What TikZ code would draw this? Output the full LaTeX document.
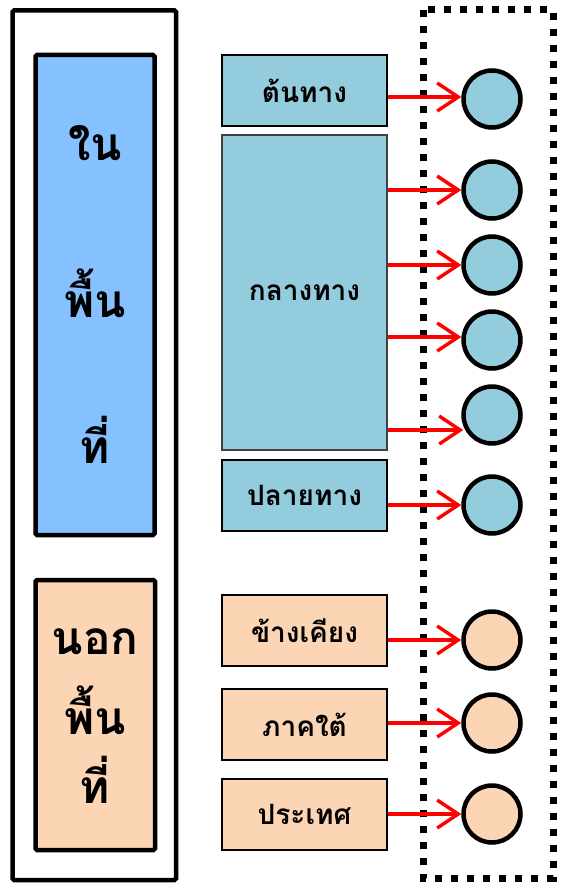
\documentclass[tikz,border=0pt]{standalone}
\usepackage{fontspec}
\newfontfamily\thaifont[Script=Thai]{Loma}
\usetikzlibrary{arrows.meta}
\definecolor{inblue}{RGB}{133,193,255}
\definecolor{aqua}{RGB}{147,205,221}
\definecolor{peach}{RGB}{252,213,181}
\definecolor{arred}{RGB}{255,0,0}
\tikzset{
  bigbox/.style={draw=black,line width=4.5pt,rounded corners=1.5pt},
  smallbox/.style={draw=black,line width=1.6pt,font=\thaifont\bfseries\fontsize{28}{32}\selectfont},
  ball/.style={circle,draw=black,line width=4.5pt,minimum size=57pt,inner sep=0pt},
  bigtext/.style={font=\thaifont\bfseries\fontsize{46}{52}\selectfont},
  arr/.style={draw=arred,line width=3.4pt,-{Straight Barb[length=21pt,width=28pt,line width=3.4pt]}},
}
\begin{document}
\begin{tikzpicture}[x=1pt,y=-1pt]
\useasboundingbox (0,0) rectangle (561,883);
% outer frame
\draw[bigbox] (12.5,10.5) rectangle (176,880);
\node[bigbox,fill=inblue,minimum width=119pt,minimum height=480pt,inner sep=0pt] (inside) at (95,295) {};
\node[bigbox,fill=peach,minimum width=119.5pt,minimum height=270pt,inner sep=0pt] (outside) at (95.25,715) {};
\node[bigtext] (t1) at (95,143) {ใน};
\node[bigtext] (t2) at (95,293) {พื้น};
\node[bigtext] (t3) at (95,440) {ที่};
\node[bigtext] (t4) at (95,642) {นอก};
\node[bigtext] (t5) at (95,710) {พื้น};
\node[bigtext] (t6) at (95,780) {ที่};
% dotted frame
\draw[line width=7pt,dash pattern=on 7pt off 9pt] (423,10) rectangle (553,878);
% right boxes
\node[smallbox,fill=aqua,minimum width=165pt,minimum height=71pt] (src) at (304.5,90.5) {ต้นทาง};
\node[smallbox,fill=aqua,draw=black!75,line width=1.3pt,minimum width=165pt,minimum height=315pt] (mid) at (304.5,292.5) {กลางทาง};
\node[smallbox,fill=aqua,minimum width=165pt,minimum height=71pt] (dst) at (304.5,495.5) {ปลายทาง};
\node[smallbox,fill=peach,minimum width=165pt,minimum height=71pt] (nb) at (304.5,630.5) {ข้างเคียง};
\node[smallbox,fill=peach,minimum width=165pt,minimum height=71pt] (south) at (304.5,724.5) {ภาคใต้};
\node[smallbox,fill=peach,minimum width=165pt,minimum height=71pt] (nation) at (304.5,814.5) {ประเทศ};
% circles
\node[ball,fill=aqua] (c1) at (492,99) {};
\node[ball,fill=aqua] (c2) at (492,190) {};
\node[ball,fill=aqua] (c3) at (492,265) {};
\node[ball,fill=aqua] (c4) at (492,340) {};
\node[ball,fill=aqua] (c5) at (492,415) {};
\node[ball,fill=aqua] (c6) at (492,505) {};
\node[ball,fill=peach] (c7) at (492,640) {};
\node[ball,fill=peach] (c8) at (492,723) {};
\node[ball,fill=peach] (c9) at (492,814) {};
% arrows
\draw[arr] (src.east |- 0,97) -- (c1.west |- 0,97);
\draw[arr] (mid.east |- c2) -- (c2.west);
\draw[arr] (mid.east |- c3) -- (c3.west);
\draw[arr] (mid.east |- 0,337) -- (c4.west |- 0,337);
\draw[arr] (mid.east |- 0,430) -- ([xshift=2pt]c5.west |- 0,430);
\draw[arr] (dst.east |- c6) -- (c6.west);
\draw[arr] (nb.east |- c7) -- (c7.west);
\draw[arr] (south.east |- c8) -- (c8.west);
\draw[arr] (nation.east |- c9) -- (c9.west);
\end{tikzpicture}
\end{document}
